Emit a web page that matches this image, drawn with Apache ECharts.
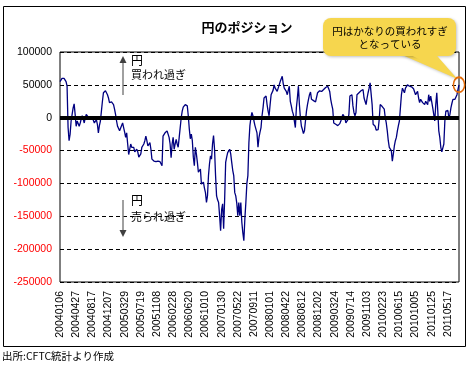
<!DOCTYPE html>
<html><head><meta charset="utf-8">
<script src="https://cdn.jsdelivr.net/npm/echarts@6/dist/echarts.min.js"></script>
<style>html,body{margin:0;padding:0;background:#fff}#c{width:471px;height:366px}</style>
</head><body><div id="c"></div><script>
const chartTitle = '円のポジション';
const sourceNote = '出所:CFTC統計より作成';
const calloutLines = ['円はかなりの買われすぎ', 'となっている'];
const upNote = ['円', '買われ過ぎ'];
const downNote = ['円', '売られ過ぎ'];
const yMin = -250000, yMax = 100000, yStep = 50000;
const labelEvery = 16;
const firstWeek = [2004, 0, 6];
// weekly net position (contracts)
const values = [
 55000, 57000, 60000, 62000, 60000, 58000, 55000, 48000, -15000, -35000,
 -25000, -5000, 5000, 15000, 21000, 5000, -13000, -5000, -3000, -13000,
 -8000, -2000, 3000, -2000, -8000, 0, 5000, 3000, 1000, 0,
 -2000, -5000, 0, -4000, -8000, -5000, -3000, -10000, -23000, -12000,
 -5000, 10000, 25000, 38000, 40000, 41000, 38000, 35000, 30000, 23000,
 20000, 24000, 25000, 20000, 13000, 5000, -5000, -13000, -16000, -20000,
 -18000, -12000, -8000, -15000, -22000, -30000, -23000, -40000, -56000, -48000,
 -40000, -45000, -48000, -45000, -52000, -55000, -48000, -52000, -60000, -63000,
 -55000, -45000, -42000, -40000, -35000, -28000, -35000, -43000, -40000, -38000,
 -48000, -63000, -65000, -66000, -66000, -67000, -66000, -66000, -67000, -67000,
 -67000, -73000, -28000, -25000, -23000, -21000, -20000, -20000, -30000, -40000,
 -61000, -40000, -30000, -48000, -40000, -33000, -40000, -45000, -30000, -15000,
 0, 10000, 16000, 18000, 20000, 23000, 18000, 3000, -17000, -32000,
 -25000, -35000, -60000, -73000, -45000, -55000, -68000, -83000, -80000, -78000,
 -101000, -100000, -98000, -107000, -114000, -129000, -119000, -88000, -70000, -58000,
 -63000, -40000, -27000, -48000, -88000, -119000, -125000, -129000, -149000, -172000,
 -140000, -131000, -169000, -124000, -68000, -60000, -53000, -50000, -48000, -55000,
 -68000, -80000, -88000, -114000, -119000, -130000, -149000, -129000, -149000, -129000,
 -159000, -175000, -187000, -154000, -129000, -100000, -88000, -38000, -12000, 0,
 8000, 3000, -5000, -12000, -15000, -23000, -45000, -30000, -22000, -15000,
 3000, 15000, 30000, 32000, 33000, 20000, 10000, 3000, 20000, 35000,
 38000, 42000, 50000, 45000, 45000, 40000, 38000, 50000, 55000, 58000,
 63000, 52000, 45000, 48000, 40000, 35000, 42000, 48000, 25000, 18000,
 10000, 5000, 3000, -15000, 15000, 30000, 48000, 20000, 0, -13000,
 -18000, -24000, -20000, -18000, 10000, 20000, 28000, 35000, 39000, 28000,
 27000, 26000, 25000, 24000, 23000, 38000, 40000, 41000, 40000, 40000,
 42000, 43000, 46000, 46000, 47000, 48000, 44000, 40000, 28000, 20000,
 13000, -8000, -9000, -10000, -11000, -12000, -13000, -9000, -5000, 0,
 5000, 6000, 0, -8000, -5000, -3000, 5000, 33000, 34000, 35000,
 18000, 8000, 3000, 8000, 35000, 37000, 38000, 40000, 41000, 42000,
 43000, 30000, 25000, 20000, 30000, 38000, 45000, 53000, 55000, 20000,
 -10000, -12000, -13000, -19000, -19000, -18000, -3000, 20000, 21000, 17000,
 15000, 13000, 0, -8000, -20000, -35000, -45000, -48000, -50000, -66000,
 -55000, -43000, -35000, -30000, -20000, -12000, -5000, 15000, 35000, 45000,
 42000, 38000, 45000, 48000, 50000, 49000, 48000, 49000, 47000, 45000,
 44000, 43000, 35000, 38000, 40000, 30000, 23000, 28000, 25000, 23000,
 21000, 20000, 25000, 22000, 20000, 35000, 25000, 33000, 24000, 15000,
 18000, -5000, 20000, 38000, 10000, -20000, -30000, -45000, -52000, -53000,
 -40000, -5000, 10000, 11000, 11000, -1000, 5000, 15000, 22000, 28000,
 30000, 28000, 25000, 35000, 43000, 50000
];
const categories = [];
for (let i = 0; i < values.length; i++) {
  const d = new Date(Date.UTC(firstWeek[0], firstWeek[1], firstWeek[2] + 7 * i));
  categories.push(d.getUTCFullYear() + String(d.getUTCMonth() + 1).padStart(2, '0') + String(d.getUTCDate()).padStart(2, '0'));
}
const JP = '"Noto Sans CJK JP", sans-serif';
const NUM = '"Liberation Sans", Arial, sans-serif';
const chart = echarts.init(document.getElementById('c'), null, {renderer: 'canvas'});
const calloutFill = '#F6D64E';
chart.setOption({
  animation: false,
  backgroundColor: '#fff',
  grid: {left: 60, right: 12, top: 52, bottom: 84, show: true, borderColor: '#000', borderWidth: 1, backgroundColor: 'transparent'},
  xAxis: {
    type: 'category', data: categories, boundaryGap: false,
    axisLine: {show: false}, axisTick: {show: false}, splitLine: {show: false},
    axisLabel: {interval: idx => idx % labelEvery === 0, rotate: 90, margin: 9, fontSize: 10.5, fontFamily: NUM, color: '#000'}
  },
  yAxis: {
    type: 'value', min: yMin, max: yMax, interval: yStep,
    axisLine: {show: false}, axisTick: {show: false},
    splitLine: {show: true, lineStyle: {color: '#000', type: [4, 3], width: 1}},
    axisLabel: {margin: 8, fontSize: 10.5, fontFamily: NUM, formatter: v => String(v), color: v => (Number(v) < 0 ? '#ff0000' : '#000')}
  },
  series: [{
    type: 'line', data: values, showSymbol: false, symbol: 'none',
    lineStyle: {color: '#000080', width: 1.3}, z: 3,
    markLine: {silent: true, symbol: 'none', label: {show: false},
      lineStyle: {color: '#000', width: 4, type: 'solid'}, data: [{yAxis: 0}]}
  }]
});
const last = values.length - 1;
const p = chart.convertToPixel({seriesIndex: 0}, [last, values[last]]);
chart.setOption({
  graphic: [
    {id: 'frame', type: 'rect', shape: {x: 3.5, y: 6.5, width: 462, height: 340}, style: {fill: 'none', stroke: '#000', lineWidth: 1}, z: 0, silent: true},
    {id: 'title', type: 'text', x: 247, y: 27, style: {text: chartTitle, font: 'bold 13px ' + JP, fill: '#000', textAlign: 'center', textVerticalAlign: 'middle'}},
    {id: 'src', type: 'text', x: 2, y: 356, style: {text: sourceNote, font: '10.5px ' + JP, fill: '#000', textAlign: 'left', textVerticalAlign: 'middle'}},
    {id: 'upLine', type: 'line', shape: {x1: 123, y1: 95, x2: 123, y2: 62}, style: {stroke: '#808080', lineWidth: 1.5}, z: 10},
    {id: 'upHead', type: 'polygon', shape: {points: [[119.5, 63], [126.5, 63], [123, 56]]}, style: {fill: '#404040'}, z: 10},
    {id: 'upT1', type: 'text', x: 131, y: 60, style: {text: upNote[0], font: '12px ' + JP, fill: '#000', textVerticalAlign: 'middle'}, z: 10},
    {id: 'upT2', type: 'text', x: 131, y: 75, style: {text: upNote[1], font: '11px ' + JP, fill: '#000', textVerticalAlign: 'middle'}, z: 10},
    {id: 'dnLine', type: 'line', shape: {x1: 123, y1: 200, x2: 123, y2: 231}, style: {stroke: '#808080', lineWidth: 1.5}, z: 10},
    {id: 'dnHead', type: 'polygon', shape: {points: [[119.5, 230], [126.5, 230], [123, 237]]}, style: {fill: '#404040'}, z: 10},
    {id: 'dnT1', type: 'text', x: 131, y: 200, style: {text: downNote[0], font: '12px ' + JP, fill: '#000', textVerticalAlign: 'middle'}, z: 10},
    {id: 'dnT2', type: 'text', x: 131, y: 217, style: {text: downNote[1], font: '11px ' + JP, fill: '#000', textVerticalAlign: 'middle'}, z: 10},
    {id: 'tailShadow', type: 'polygon', shape: {points: [[400, 54], [433, 54], [p[0] - 2, p[1] - 6]]}, style: {fill: calloutFill, shadowBlur: 3, shadowColor: 'rgba(0,0,0,0.25)', shadowOffsetX: 1, shadowOffsetY: 1}, z: 20},
    {id: 'box', type: 'rect', shape: {x: 323, y: 18, width: 133, height: 38, r: 8}, style: {fill: calloutFill, shadowBlur: 3, shadowColor: 'rgba(0,0,0,0.25)', shadowOffsetX: 1, shadowOffsetY: 1}, z: 21},
    {id: 'tail', type: 'polygon', shape: {points: [[401, 50], [432, 50], [p[0] - 2, p[1] - 6]]}, style: {fill: calloutFill}, z: 22},
    {id: 'cl1', type: 'text', x: 390, y: 31, style: {text: calloutLines[0], font: '10.5px ' + JP, fill: '#000', textAlign: 'center', textVerticalAlign: 'middle'}, z: 23},
    {id: 'cl2', type: 'text', x: 390, y: 44, style: {text: calloutLines[1], font: '10.5px ' + JP, fill: '#000', textAlign: 'center', textVerticalAlign: 'middle'}, z: 23},
    {id: 'ring', type: 'circle', x: p[0], y: p[1], scaleX: 0.75, shape: {cx: 0, cy: 0, r: 7.5}, style: {fill: 'none', stroke: '#E46C0A', lineWidth: 2}, z: 24}
  ]
});
</script></body></html>
